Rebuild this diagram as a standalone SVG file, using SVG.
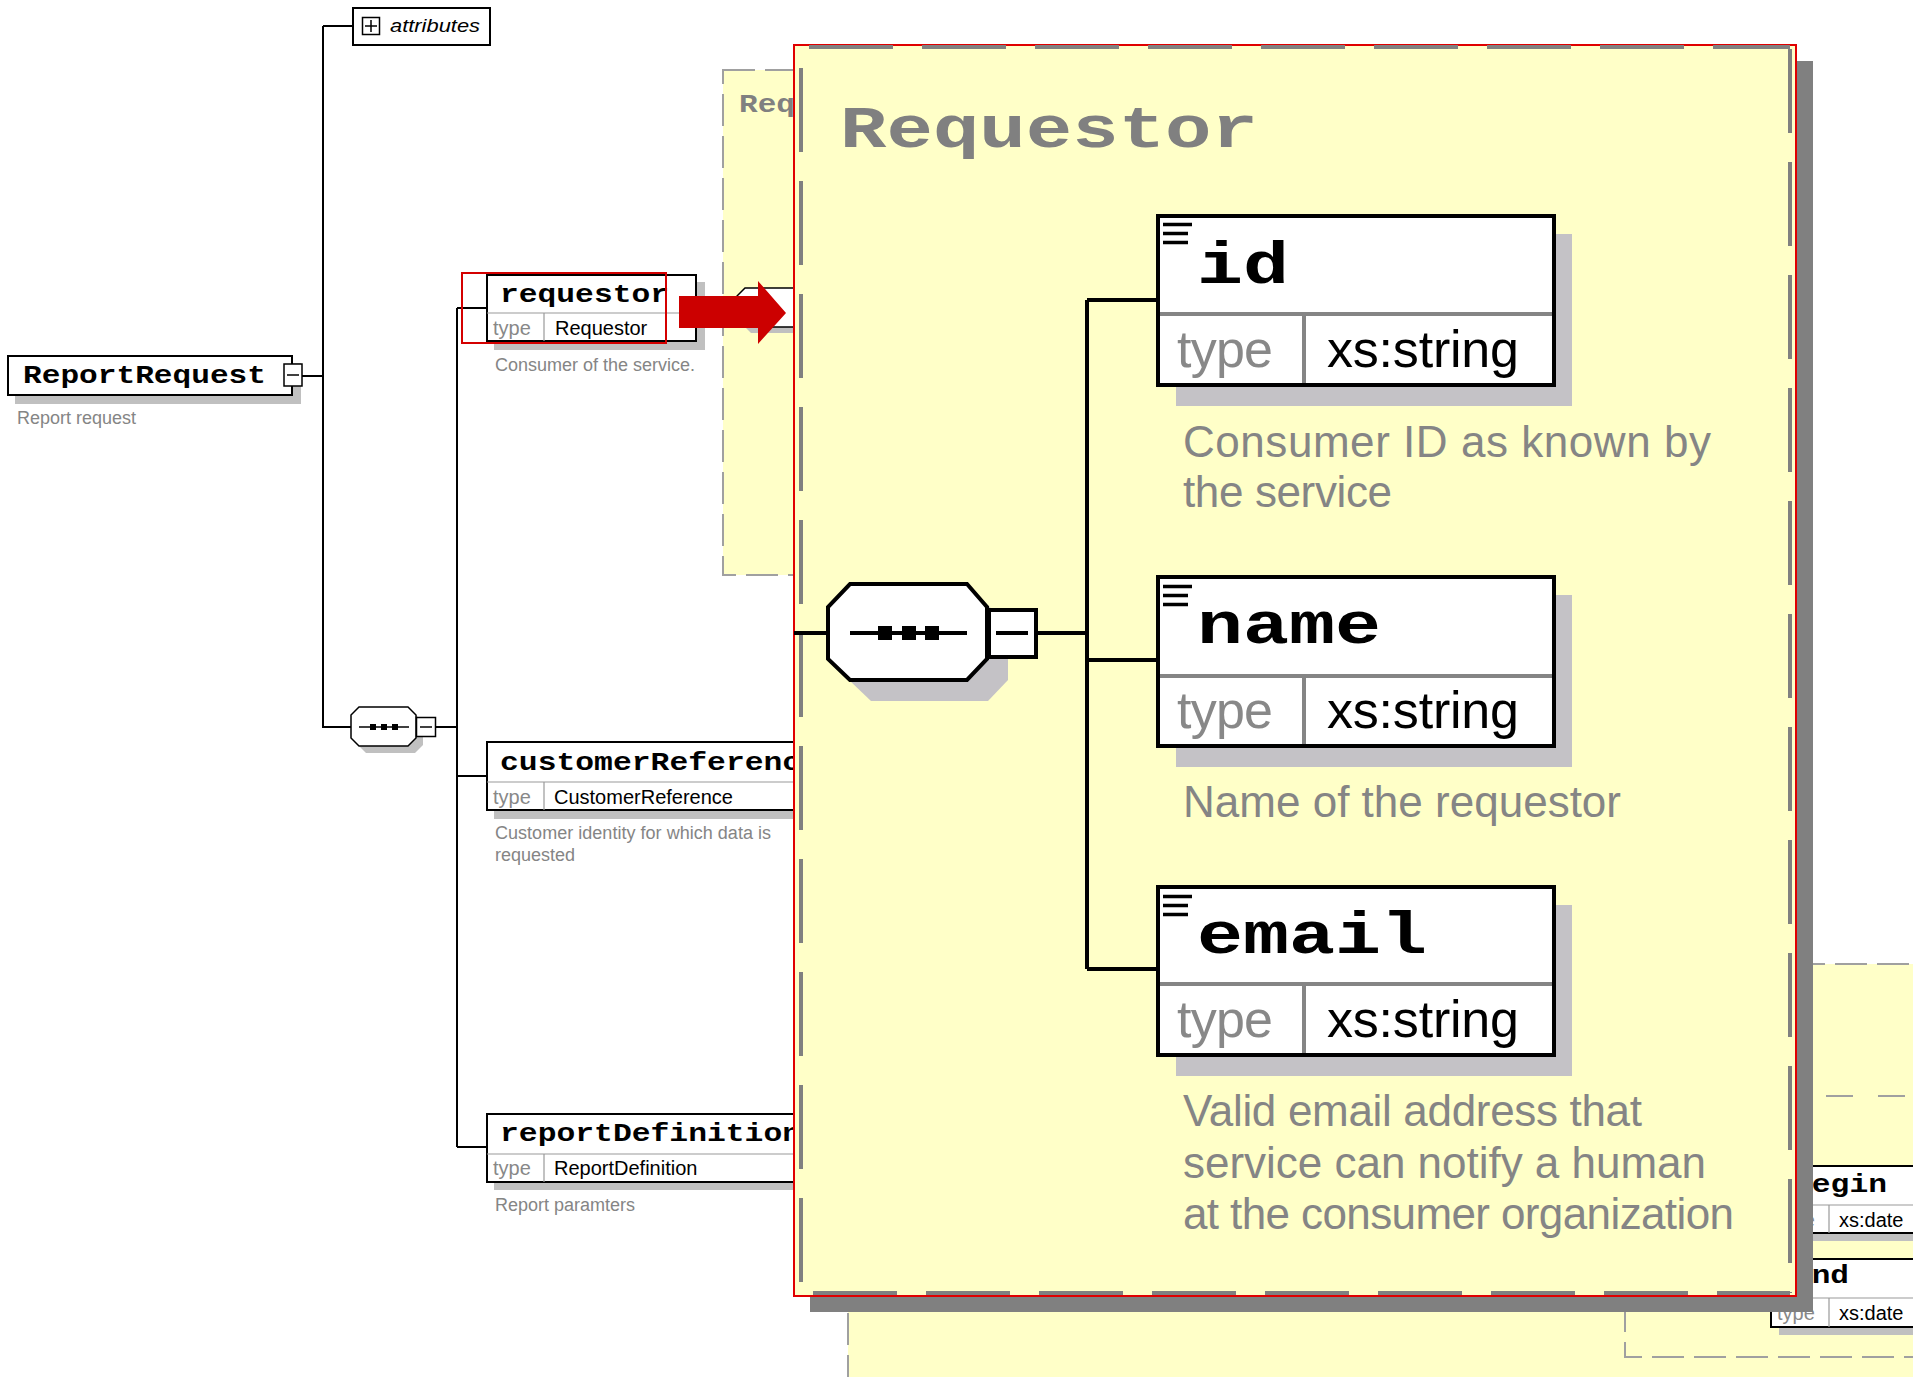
<svg xmlns="http://www.w3.org/2000/svg" width="1913" height="1377" viewBox="0 0 1913 1377">
<defs>
<style>
.ln{stroke:#000;stroke-width:2;fill:none}
.lnb{stroke:#000;stroke-width:4;fill:none}
.box{fill:#fff;stroke:#000;stroke-width:2}
.bbox{fill:#fff;stroke:#000;stroke-width:4}
.sh{fill:#c0c0c0}
.bsh{fill:#c4c2c6}
.dv{stroke:#999;stroke-width:1.2}
.bdv{stroke:#858585;stroke-width:4}
.yel{fill:#ffffc8}
.nm{font-family:"Liberation Mono","DejaVu Sans Mono",monospace;font-weight:bold;fill:#000}
.ty{font-family:"Liberation Sans",Arial,sans-serif;fill:#888}
.tv{font-family:"Liberation Sans",Arial,sans-serif;fill:#000}
.ds{font-family:"Liberation Sans",Arial,sans-serif;fill:#858585}
.gdash{stroke:#808080;stroke-width:4;stroke-dasharray:84 29;fill:none}
.tdash{stroke:#a0a0a0;stroke-width:2;stroke-dasharray:32 10;fill:none}
</style>
</defs>
<rect x="0" y="0" width="1913" height="1377" fill="#fff"/>

<!-- background boxes (zoomed-out views) -->
<g id="bg-requestor">
<rect x="723" y="70" width="300" height="505" class="yel"/>
<rect x="723" y="70" width="300" height="505" class="tdash"/>
<text x="739" y="112" class="nm" font-size="26" style="fill:#808080" textLength="56" lengthAdjust="spacingAndGlyphs">Req</text>
<polygon points="751,294 808,294 816,302 816,325 808,333 751,333 743,325 743,302" class="sh"/>
<polygon points="745,288 802,288 810,296 810,319 802,327 745,327 737,319 737,296" fill="#fff" stroke="#000" stroke-width="1.5"/>
</g>

<g id="bg-bottom">
<rect x="848" y="1250" width="1100" height="200" class="yel"/>
<line x1="848" y1="1313" x2="848" y2="1377" class="tdash"/>
</g>

<g id="bg-period">
<rect x="1625" y="964" width="400" height="393" class="yel"/>
<rect x="1625" y="964" width="400" height="393" class="tdash"/>
<line x1="1826" y1="1096" x2="1913" y2="1096" stroke="#a0a0a0" stroke-width="2" stroke-dasharray="27 25"/>
</g>

<g id="begin">
<rect x="1779" y="1174" width="300" height="67" class="sh"/>
<rect x="1771" y="1166" width="300" height="67" class="box"/>
<line x1="1771" y1="1205" x2="2071" y2="1205" class="dv"/>
<line x1="1829" y1="1205" x2="1829" y2="1233" class="dv"/>
<text x="1793" y="1192" class="nm" font-size="26" textLength="94" lengthAdjust="spacingAndGlyphs">begin</text>
<text x="1777" y="1227" class="ty" font-size="20">type</text>
<text x="1839" y="1227" class="tv" font-size="20">xs:date</text>
</g>

<g id="end">
<rect x="1779" y="1267" width="300" height="68" class="sh"/>
<rect x="1771" y="1259" width="300" height="68" class="box"/>
<line x1="1771" y1="1298" x2="2071" y2="1298" class="dv"/>
<line x1="1829" y1="1298" x2="1829" y2="1327" class="dv"/>
<text x="1793" y="1283" class="nm" font-size="26" textLength="56" lengthAdjust="spacingAndGlyphs">end</text>
<text x="1777" y="1320" class="ty" font-size="20">type</text>
<text x="1839" y="1320" class="tv" font-size="20">xs:date</text>
</g>

<!-- left tree connectors -->
<g id="connectors">
<path d="M323 26 H353 M302 376 H323 M323 26 V727 H351 M436 727 H457 M457 308 V1147 M457 308 H487 M457 776 H487 M457 1147 H487" class="ln"/>
</g>

<g id="attributes">
<rect x="353" y="8" width="137" height="37" class="box"/>
<rect x="362.5" y="17.5" width="17" height="17" fill="#fff" stroke="#000" stroke-width="1.5"/>
<path d="M365 26 H377 M371 20 V32" stroke="#000" stroke-width="1.5"/>
<text x="390" y="32" font-family="'Liberation Sans',Arial,sans-serif" font-style="italic" font-size="19" textLength="90" lengthAdjust="spacingAndGlyphs">attributes</text>
</g>

<g id="ReportRequest">
<rect x="15" y="363" width="286" height="41" class="sh"/>
<rect x="8" y="356" width="284" height="39" class="box"/>
<text x="23" y="383" class="nm" font-size="26" textLength="243" lengthAdjust="spacingAndGlyphs">ReportRequest</text>
<rect x="284" y="364" width="18" height="22" fill="#fff" stroke="#000" stroke-width="1.5"/>
<path d="M287 375 H299" stroke="#000" stroke-width="1.5"/>
<text x="17" y="424" class="ds" font-size="18">Report request</text>
</g>

<g id="sequence-small">
<polygon points="366,714 415,714 423,722 423,745 415,753 366,753 358,745 358,722" class="sh"/>
<polygon points="359,707 408,707 416,715 416,738 408,746 359,746 351,738 351,715" fill="#fff" stroke="#000" stroke-width="1.5"/>
<path d="M359 727 H409" stroke="#000" stroke-width="1.5"/>
<rect x="370" y="724" width="6" height="6"/>
<rect x="381" y="724" width="6" height="6"/>
<rect x="392" y="724" width="6" height="6"/>
<rect x="416.5" y="717.5" width="19" height="19" fill="#fff" stroke="#000" stroke-width="1.5"/>
<path d="M420 727 H432" stroke="#000" stroke-width="1.5"/>
</g>

<g id="requestor">
<rect x="494" y="282" width="211" height="68" class="sh"/>
<rect x="487" y="275" width="209" height="66" class="box"/>
<line x1="487" y1="313" x2="696" y2="313" class="dv"/>
<line x1="544" y1="313" x2="544" y2="341" class="dv"/>
<text x="500" y="302" class="nm" font-size="26" textLength="169" lengthAdjust="spacingAndGlyphs">requestor</text>
<text x="493" y="335" class="ty" font-size="20">type</text>
<text x="555" y="335" class="tv" font-size="20">Requestor</text>
<text x="495" y="371" class="ds" font-size="18">Consumer of the service.</text>
<rect x="462" y="273" width="204" height="70" fill="none" stroke="#d40000" stroke-width="2"/>
</g>

<g id="customerReference">
<rect x="494" y="750" width="400" height="69" class="sh"/>
<rect x="487" y="742" width="400" height="68" class="box"/>
<line x1="487" y1="782" x2="887" y2="782" class="dv"/>
<line x1="544" y1="782" x2="544" y2="810" class="dv"/>
<text x="500" y="770" class="nm" font-size="26" textLength="320" lengthAdjust="spacingAndGlyphs">customerReference</text>
<text x="493" y="804" class="ty" font-size="20">type</text>
<text x="554" y="804" class="tv" font-size="20">CustomerReference</text>
<text x="495" y="839" class="ds" font-size="18" textLength="276">Customer identity for which data is</text>
<text x="495" y="861" class="ds" font-size="18">requested</text>
</g>

<g id="reportDefinition">
<rect x="494" y="1121" width="400" height="69" class="sh"/>
<rect x="487" y="1114" width="400" height="68" class="box"/>
<line x1="487" y1="1154" x2="887" y2="1154" class="dv"/>
<line x1="544" y1="1154" x2="544" y2="1182" class="dv"/>
<text x="500" y="1141" class="nm" font-size="26" textLength="301" lengthAdjust="spacingAndGlyphs">reportDefinition</text>
<text x="493" y="1175" class="ty" font-size="20">type</text>
<text x="554" y="1175" class="tv" font-size="20">ReportDefinition</text>
<text x="495" y="1211" class="ds" font-size="18">Report paramters</text>
</g>

<g id="arrow">
<polygon points="679,296 758,296 758,281 786,313 758,344 758,328 679,328" fill="#cc0000"/>
</g>

<!-- magnified Requestor view -->
<g id="Requestor-detail">
<rect x="810" y="61" width="1003" height="1251" fill="#808080"/>
<rect x="794" y="45" width="1002" height="1251" class="yel" stroke="#e00000" stroke-width="2"/>
<line x1="809" y1="47" x2="1790" y2="47" class="gdash"/>
<line x1="801" y1="68" x2="801" y2="1293" class="gdash"/>
<line x1="813" y1="1293" x2="1790" y2="1293" class="gdash"/>
<line x1="1790" y1="49" x2="1790" y2="1293" class="gdash"/>
<text x="840" y="147" class="nm" font-size="60" style="fill:#808080" textLength="418" lengthAdjust="spacingAndGlyphs">Requestor</text>
</g>

<g id="detail-connectors">
<path d="M794 633 H828 M1038 633 H1087 M1087 300 V969 M1087 300 H1158 M1087 660 H1158 M1087 969 H1158" class="lnb"/>
</g>

<g id="sequence-big">
<polygon points="871,605 988,605 1008,628 1008,680 988,701 871,701 849,680 849,628" class="bsh"/>
<polygon points="850,584 967,584 987,607 987,659 967,680 850,680 828,659 828,607" fill="#fff" stroke="#000" stroke-width="4"/>
<path d="M850 633 H967" stroke="#000" stroke-width="4"/>
<rect x="878" y="626" width="14" height="14"/>
<rect x="902" y="626" width="14" height="14"/>
<rect x="925" y="626" width="14" height="14"/>
<rect x="989" y="610" width="47" height="47" fill="#fff" stroke="#000" stroke-width="4"/>
<path d="M996 633 H1028" stroke="#000" stroke-width="4"/>
</g>

<g id="id">
<rect x="1176" y="234" width="396" height="172" class="bsh"/>
<rect x="1158" y="216" width="396" height="169" class="bbox"/>
<line x1="1160" y1="314" x2="1552" y2="314" class="bdv"/>
<line x1="1304" y1="316" x2="1304" y2="383" class="bdv"/>
<path d="M1163 224.5 H1192 M1163 233.5 H1188 M1163 242.5 H1188" stroke="#000" stroke-width="3.5"/>
<text x="1197" y="283" class="nm" font-size="60" textLength="92" lengthAdjust="spacingAndGlyphs">id</text>
<text x="1177" y="367" class="ty" font-size="52" textLength="96">type</text>
<text x="1327" y="367" class="tv" font-size="52" textLength="192">xs:string</text>
<text x="1183" y="457" class="ds" font-size="44" textLength="528">Consumer ID as known by</text>
<text x="1183" y="507" class="ds" font-size="44" textLength="209">the service</text>
</g>

<g id="name">
<rect x="1176" y="595" width="396" height="172" class="bsh"/>
<rect x="1158" y="577" width="396" height="169" class="bbox"/>
<line x1="1160" y1="676" x2="1552" y2="676" class="bdv"/>
<line x1="1304" y1="678" x2="1304" y2="744" class="bdv"/>
<path d="M1163 586.5 H1192 M1163 595.5 H1188 M1163 604.5 H1188" stroke="#000" stroke-width="3.5"/>
<text x="1197" y="643" class="nm" font-size="60" textLength="184" lengthAdjust="spacingAndGlyphs">name</text>
<text x="1177" y="728" class="ty" font-size="52" textLength="96">type</text>
<text x="1327" y="728" class="tv" font-size="52" textLength="192">xs:string</text>
<text x="1183" y="817" class="ds" font-size="44" textLength="438">Name of the requestor</text>
</g>

<g id="email">
<rect x="1176" y="905" width="396" height="171" class="bsh"/>
<rect x="1158" y="887" width="396" height="168" class="bbox"/>
<line x1="1160" y1="984" x2="1552" y2="984" class="bdv"/>
<line x1="1304" y1="986" x2="1304" y2="1053" class="bdv"/>
<path d="M1163 896.5 H1192 M1163 905.5 H1188 M1163 914.5 H1188" stroke="#000" stroke-width="3.5"/>
<text x="1197" y="953" class="nm" font-size="60" textLength="230" lengthAdjust="spacingAndGlyphs">email</text>
<text x="1177" y="1037" class="ty" font-size="52" textLength="96">type</text>
<text x="1327" y="1037" class="tv" font-size="52" textLength="192">xs:string</text>
<text x="1183" y="1126" class="ds" font-size="44" textLength="459">Valid email address that</text>
<text x="1183" y="1178" class="ds" font-size="44" textLength="523">service can notify a human</text>
<text x="1183" y="1229" class="ds" font-size="44" textLength="551">at the consumer organization</text>
</g>
</svg>
